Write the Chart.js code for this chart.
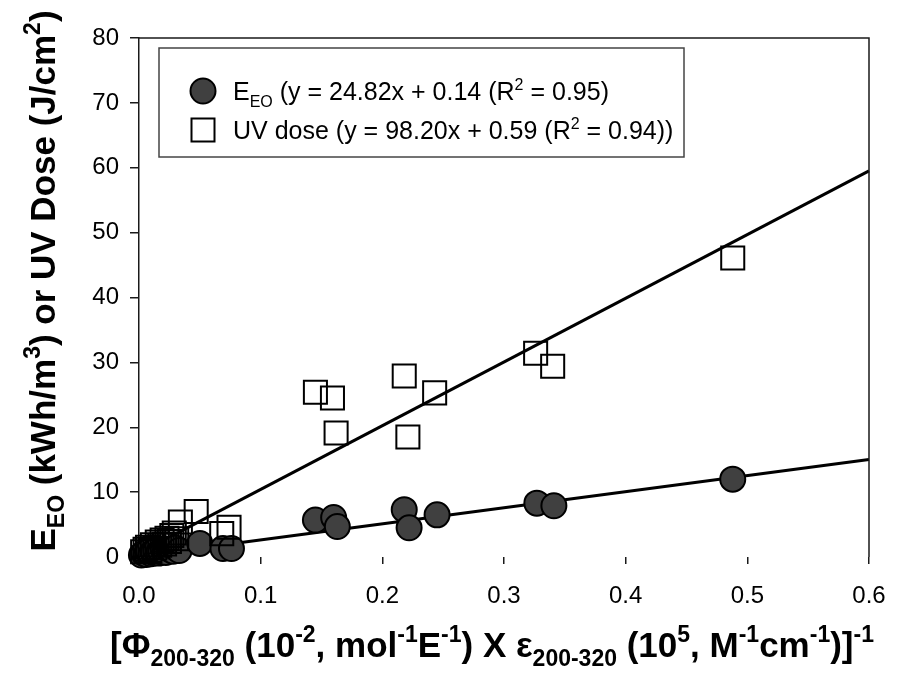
<!DOCTYPE html>
<html>
<head>
<meta charset="utf-8">
<script src="https://cdn.jsdelivr.net/npm/chart.js@4.4.1/dist/chart.umd.min.js"></script>
<style>
  html, body { margin: 0; padding: 0; background: #fff; }
  #wrap { width: 904px; height: 680px; }
</style>
</head>
<body>
<div id="wrap"><canvas id="c" width="904" height="680"></canvas></div>
<script>
// x: [Φ200-320 × ε200-320]^-1, y: EEO (kWh/m3) and UV dose (J/cm2)
const eeoX  = [0.002, 0.004, 0.006, 0.008, 0.010, 0.012, 0.014, 0.016, 0.018, 0.020, 0.022, 0.025, 0.028, 0.030, 0.033,
               0.050, 0.069, 0.076, 0.145, 0.160, 0.163, 0.218, 0.222, 0.245, 0.327, 0.341, 0.488];
const eeoY  = [0.3, 0.6, 0.4, 0.9, 0.5, 0.7, 1.0, 0.6, 0.8, 1.1, 0.7, 1.2, 0.9, 1.4, 1.0,
               2.1, 1.3, 1.3, 5.7, 6.1, 4.7, 7.3, 4.5, 6.5, 8.3, 7.9, 12.0];
const doseX = [0.003, 0.005, 0.007, 0.009, 0.011, 0.013, 0.015, 0.017, 0.019, 0.021, 0.023, 0.025, 0.027, 0.029, 0.031,
               0.034, 0.047, 0.068, 0.074, 0.145, 0.159, 0.162, 0.218, 0.221, 0.243, 0.326, 0.340, 0.488];
const doseY = [0.8, 1.2, 1.5, 1.0, 1.9, 1.4, 2.3, 1.8, 2.6, 2.0, 2.9, 2.4, 3.3, 3.7, 2.8,
               5.4, 7.0, 3.6, 4.6, 25.4, 24.5, 19.1, 27.9, 18.5, 25.3, 31.4, 29.4, 46.1];

// linear fits: [EEO, UV dose]
const fitSlope     = [24.82, 98.20];
const fitIntercept = [0.14, 0.59];
const fitR2        = ['0.95', '0.94'];
const fitXRange    = [0.0, 0.6];

const xTickValues = [0.0, 0.1, 0.2, 0.3, 0.4, 0.5, 0.6];
const yTickValues = [0, 10, 20, 30, 40, 50, 60, 70, 80];

const FONT = 'Arial, "Liberation Sans", Helvetica, sans-serif';
const CIRCLE_FILL = '#404040';

const toPts = (xs, ys) => xs.map((x, i) => ({ x: x, y: ys[i] }));
const fitPts = (k) => fitXRange.map(x => ({ x: x, y: fitSlope[k] * x + fitIntercept[k] }));

// rich text: segments of [text, kind] with kind '', 'sub' or 'sup'
function segFont(kind, size, weight, ratio) {
  const s = kind ? Math.round(size * ratio) : size;
  return weight + ' ' + s + 'px ' + FONT;
}
function richWidth(ctx, segs, size, weight, ratio) {
  let w = 0;
  for (const [t, k] of segs) { ctx.font = segFont(k, size, weight, ratio); w += ctx.measureText(t).width; }
  return w;
}
function drawRich(ctx, segs, x, y, size, weight, ratio) {
  ctx.textBaseline = 'alphabetic';
  ctx.textAlign = 'left';
  let cx = x;
  for (const [t, k] of segs) {
    ctx.font = segFont(k, size, weight, ratio);
    const dy = k === 'sub' ? size * 0.27 : (k === 'sup' ? -size * 0.42 : 0);
    ctx.fillText(t, cx, y + dy);
    cx += ctx.measureText(t).width;
  }
}

const yTitle = [['E', ''], ['EO', 'sub'], [' (kWh/m', ''], ['3', 'sup'], [') or UV Dose (J/cm', ''], ['2', 'sup'], [')', '']];
const xTitle = [['[Φ', ''], ['200-320', 'sub'], [' (10', ''], ['-2', 'sup'], [', mol', ''], ['-1', 'sup'], ['E', ''], ['-1', 'sup'],
                [') X ε', ''], ['200-320', 'sub'], [' (10', ''], ['5', 'sup'], [', M', ''], ['-1', 'sup'], ['cm', ''], ['-1', 'sup'],
                [')]', ''], ['-1', 'sup']];
const legendRows = [
  [['E', ''], ['EO', 'sub'], [' (y = ' + fitSlope[0].toFixed(2) + 'x + ' + fitIntercept[0].toFixed(2) + ' (R', ''], ['2', 'sup'], [' = ' + fitR2[0] + ')', '']],
  [['UV dose (y = ' + fitSlope[1].toFixed(2) + 'x + ' + fitIntercept[1].toFixed(2) + ' (R', ''], ['2', 'sup'], [' = ' + fitR2[1] + '))', '']]
];

// frame on top/right, axis titles and the boxed legend
const decorations = {
  id: 'decorations',
  afterDatasetsDraw(chart) {
    const ctx = chart.ctx;
    const a = chart.chartArea;
    ctx.save();
    ctx.strokeStyle = '#1a1a1a';
    ctx.lineWidth = 1.5;
    ctx.beginPath();
    ctx.moveTo(a.left, a.top);
    ctx.lineTo(a.right, a.top);
    ctx.lineTo(a.right, a.bottom);
    ctx.stroke();

    // legend
    const lx = 159, ly = 48, lw = 525, lh = 109;
    ctx.fillStyle = '#fff';
    ctx.fillRect(lx, ly, lw, lh);
    ctx.strokeStyle = '#444';
    ctx.lineWidth = 1.5;
    ctx.strokeRect(lx, ly, lw, lh);

    ctx.beginPath();
    ctx.arc(203, 91, 12.5, 0, Math.PI * 2);
    ctx.fillStyle = CIRCLE_FILL;
    ctx.fill();
    ctx.lineWidth = 2;
    ctx.strokeStyle = '#000';
    ctx.stroke();
    ctx.strokeRect(191.5, 118.5, 23, 23);

    ctx.fillStyle = '#000';
    drawRich(ctx, legendRows[0], 233, 100, 25, 'normal', 0.62);
    drawRich(ctx, legendRows[1], 233, 139, 25, 'normal', 0.62);

    // x title
    const ts = 35;
    const xw = richWidth(ctx, xTitle, ts, 'bold', 0.66);
    drawRich(ctx, xTitle, 492 - xw / 2, 657, ts, 'bold', 0.66);

    // y title
    ctx.save();
    ctx.translate(55, 281);
    ctx.rotate(-Math.PI / 2);
    const yw = richWidth(ctx, yTitle, ts, 'bold', 0.66);
    drawRich(ctx, yTitle, -yw / 2, 0, ts, 'bold', 0.66);
    ctx.restore();

    ctx.restore();
  }
};

new Chart(document.getElementById('c'), {
  type: 'scatter',
  data: {
    datasets: [
      {
        label: 'EEO fit', type: 'line', data: fitPts(0),
        borderColor: '#000', borderWidth: 3, pointRadius: 0, fill: false, order: 4, clip: false
      },
      {
        label: 'UV dose fit', type: 'line', data: fitPts(1),
        borderColor: '#000', borderWidth: 3, pointRadius: 0, fill: false, order: 3, clip: false
      },
      {
        label: 'EEO', data: toPts(eeoX, eeoY),
        pointStyle: 'circle', pointRadius: 12.5, pointBackgroundColor: CIRCLE_FILL,
        pointBorderColor: '#000', pointBorderWidth: 2, order: 2, clip: false
      },
      {
        label: 'UV dose', data: toPts(doseX, doseY),
        pointStyle: 'rect', pointRadius: 16.3, pointBackgroundColor: 'rgba(255,255,255,0)',
        pointBorderColor: '#000', pointBorderWidth: 2, order: 1, clip: false
      }
    ]
  },
  options: {
    responsive: false,
    animation: false,
    devicePixelRatio: 1,
    layout: { padding: { left: 0, top: 38, right: 35, bottom: 0 } },
    plugins: { legend: { display: false }, tooltip: { enabled: false } },
    scales: {
      x: {
        type: 'linear', min: 0, max: 0.6,
        afterFit: (s) => { s.height = 123; },
        afterBuildTicks: (s) => { s.ticks = xTickValues.map(v => ({ value: v })); },
        border: { display: false },
        grid: { drawOnChartArea: false, drawTicks: true, tickLength: 7, color: '#1a1a1a', lineWidth: 1.5 },
        ticks: { color: '#000', font: { family: FONT, size: 24 }, padding: 18, maxRotation: 0,
                 callback: (v) => Number(v).toFixed(1) }
      },
      y: {
        type: 'linear', min: 0, max: 80,
        afterFit: (s) => { s.width = 139; },
        afterBuildTicks: (s) => { s.ticks = yTickValues.map(v => ({ value: v })); },
        border: { display: true, color: '#1a1a1a', width: 1.5 },
        grid: { drawOnChartArea: false, drawTicks: true, tickLength: 9, color: '#1a1a1a', lineWidth: 1.5 },
        ticks: { color: '#000', font: { family: FONT, size: 24 }, padding: 11,
                 callback: (v) => String(v) }
      }
    }
  },
  plugins: [decorations]
});
</script>
</body>
</html>
